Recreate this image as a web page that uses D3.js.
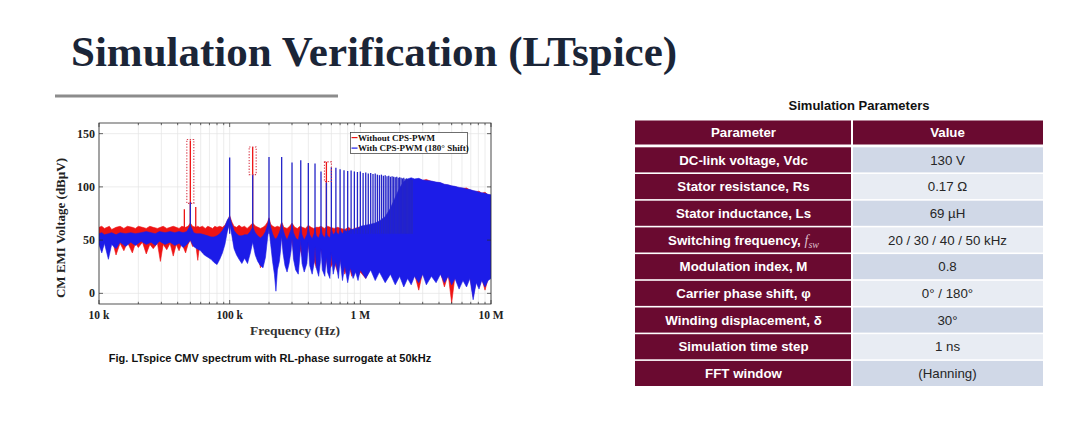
<!DOCTYPE html>
<html><head><meta charset="utf-8">
<script src="https://cdn.jsdelivr.net/npm/d3@7"></script>
<style>body{margin:0;background:#fff;}svg{display:block;}</style>
</head><body>
<svg id="c" width="1073" height="423"></svg>
<script>
// ---------------- DATA ----------------
const titleText = "Simulation Verification (LTspice)";
const captionText = "Fig. LTspice CMV spectrum with RL-phase surrogate at 50kHz";
const seriesNames = ["Without CPS-PWM", "With CPS-PWM (180° Shift)"];
const xTickValues = [1e4, 1e5, 1e6, 1e7];
const xTickLabels = ["10 k", "100 k", "1 M", "10 M"];
const yTickValues = [0, 50, 100, 150];
const yTickLabels = ["0", "50", "100", "150"];

// noise floor envelopes: [kHz, lower dB, upper dB]
const withoutFloor = [[10,48,62],[10.5,40,63],[11,50,61],[12,44,63],[12.5,52,60],[13.5,36,62],[14.5,47,63],[15.5,40,61],[16.5,48,63],[18,38,62],[19,47,61],[20,43,63],[21.5,48,62],[23,37,61],[24.5,46,63],[26,42,62],[28,47,61],[29.5,30,62],[31,46,63],[33,41,61],[35,47,62],[37,35,63],[39,46,62],[41,40,61],[43,47,63],[46,38,62],[48,46,63],[50,50,66],[52,44,63],[55,46,62],[57,31,63],[59,46,62],[62,38,63],[65,47,61],[68,36,63],[71,46,62],[74,33,61],[77,45,63],[80,40,62],[84,47,63],[88,42,62],[92,52,64],[96,60,68],[100,66,73],[104,58,67],[108,46,63],[113,40,62],[118,48,64],[124,38,62],[130,44,63],[136,30,61],[142,46,63],[150,50,66],[158,44,63],[165,36,62],[172,24,61],[180,40,62],[188,48,64],[195,58,67],[200,62,71],[206,52,65],[214,38,63],[222,30,62],[232,40,63],[242,46,62],[250,54,67],[260,38,62],[275,28,61],[288,42,63],[300,50,66],[315,30,62],[330,26,61],[345,42,63],[360,34,62],[380,28,61],[400,46,64],[420,26,62],[440,32,61],[460,24,62],[480,36,62],[500,42,63],[530,22,61],[560,34,63],[590,24,62],[630,30,61],[670,20,62],[710,32,61],[760,18,60],[810,28,62],[860,16,60],[910,26,61],[960,16,62],[1000,20,62],[1100,14,63],[1200,24,64],[1300,16,64],[1400,24,65],[1550,14,66],[1700,22,67],[1850,12,68],[2000,20,72],[2150,10,85],[2300,18,100],[2450,12,107],[2600,18,106.5],[2800,3,107],[3000,20,106],[3200,12,107],[3500,19,105],[3800,14,104],[4100,20,103.5],[4400,6,102],[4700,18,101.5],[5000,-9,100.5],[5300,16,100],[5700,8,99],[6100,14,98.5],[6500,10,99],[6900,16,97],[7300,-3,96],[7700,12,95.5],[8100,6,96],[8500,14,94],[9000,3,95],[9500,14,92.5],[10000,16,92]];

const withFloor = [[10,46,56],[10.5,38,57],[11,47,55],[11.8,32,56],[12.5,46,57],[13.5,42,55],[14.5,48,57],[16,44,56],[17.5,48,57],[19,45,56],[21,49,57],[23,46,58],[25,48,57],[27,45,56],[29,49,58],[32,46,57],[35,48,58],[38,45,57],[41,47,58],[44,43,57],[47,46,58],[50,50,64],[53,44,57],[56,42,56],[60,40,56],[64,36,55],[68,34,54],[72,32,53],[76,29,53],[80,27,54],[84,32,56],[88,38,59],[92,46,63],[96,58,69],[100,66,72],[104,54,65],[108,42,59],[113,36,56],[118,32,54],[124,28,54],[130,33,55],[137,28,55],[144,38,58],[150,48,62],[157,36,57],[164,30,54],[172,26,52],[180,24,54],[188,34,58],[195,52,64],[200,62,70],[206,46,62],[213,30,56],[220,18,52],[226,2,51],[232,22,53],[240,30,57],[246,42,61],[250,54,66],[256,38,60],[265,26,54],[275,20,50],[285,28,55],[295,40,60],[300,52,65],[308,32,57],[320,22,52],[335,18,50],[345,36,58],[350,50,63],[358,28,55],[372,20,50],[390,28,55],[400,48,62],[410,26,55],[428,18,51],[445,30,57],[450,44,61],[460,24,54],[480,16,52],[495,30,57],[500,42,61],[512,22,55],[535,16,52],[548,34,59],[560,20,54],[585,14,52],[600,38,60],[620,18,55],[650,30,58],[680,14,55],[700,32,59],[730,12,56],[760,26,59],[800,10,58],[840,24,60],[880,14,60],[920,20,61],[960,12,61],[1000,22,63],[1100,14,64],[1200,22,65],[1300,12,66],[1400,20,68],[1550,10,72],[1700,18,80],[1850,8,90],[2000,16,99],[2150,6,105],[2300,14,107.5],[2450,8,108.5],[2600,16,107.5],[2800,10,108],[3000,18,106.5],[3200,8,106],[3500,16,105.5],[3800,10,104.5],[4100,18,104],[4400,10,102.5],[4700,16,102],[5000,8,101],[5300,14,100.5],[5700,4,99.5],[6100,12,99],[6500,6,98],[6900,14,97.5],[7300,-6,96.5],[7700,10,96],[8100,4,95],[8500,12,94.5],[9000,6,94],[9500,12,93],[10000,14,92.5]];

// discrete spectral peaks: frequencies in kHz, amplitudes in dBµV
const withoutPeakKHz = [45, 50, 55, 150, 550];
const withoutPeakDB  = [79, 143.5, 81, 137.5, 123.5];
const withPeakKHz = [50,100,150,200,250,300,350,400,450,500,550,600,650,700,750,800,850,900,950,1000,1050,1100,1150,1200,1250,1300,1350,1400,1450,1500,1550,1600,1650,1700,1750,1800,1850,1900,1950,2000,2050,2100,2150,2200,2250,2300,2350,2400,2450,2500];
const withPeakDB  = [85.5,127.5,112,128,128,122.8,125,122.5,122,114.5,104,118.5,118,116.5,115.6,115,115.5,114.5,114,114.5,113,113.5,112.5,113,112,112.5,111.5,111,111.5,110.5,111,110,110.5,109.5,110,109.5,109,109.5,108.5,109,108.5,108,108.5,107.5,108,107.5,107,107.5,107,106.5];

// dotted highlight boxes around suppressed peaks
const highlightKHz = [50, 150, 565];
const highlightLo  = [84.5, 111.5, 105];
const highlightHi  = [144.5, 137.5, 123.5];

// table
const tableTitle = "Simulation Parameters";
const tableHeader = ["Parameter", "Value"];
const paramNames = ["DC-link voltage, Vdc","Stator resistance, Rs","Stator inductance, Ls","Switching frequency, ","Modulation index, M","Carrier phase shift, φ","Winding displacement, δ","Simulation time step","FFT window"];
const paramValues = ["130 V","0.17 Ω","69 µH","20 / 30 / 40 / 50 kHz","0.8","0° / 180°","30°","1 ns","(Hanning)"];

// ---------------- DRAW ----------------
const svg = d3.select("#c");
const RED = "#ee1414", BLUE = "#1c1ce8";
const serif = "'Liberation Serif','Times New Roman',serif";
const sans = "'Liberation Sans',Arial,sans-serif";

svg.append("text").attr("x", 71).attr("y", 66).text(titleText)
  .attr("font-family", serif).attr("font-weight", "bold").attr("font-size", 43).attr("fill", "#1b2537");
svg.append("rect").attr("x", 55).attr("y", 94.5).attr("width", 283).attr("height", 3).attr("fill", "#8c8c8c");

// plot
const P = {l: 99, r: 491, t: 123, b: 304};
const x = d3.scaleLog().domain([1e4, 1e7]).range([P.l, P.r]);
const y = d3.scaleLinear().domain([-10, 160]).range([P.b, P.t]);

const defs = svg.append("defs");
defs.append("clipPath").attr("id", "clip").append("rect")
  .attr("x", P.l).attr("y", P.t).attr("width", P.r - P.l).attr("height", P.b - P.t);

const g = svg.append("g");
// grid
const minorVals = [];
for (let e = 4; e < 7; e++) for (let m = 1; m < 10; m++) minorVals.push(m * Math.pow(10, e));
minorVals.push(1e7);
g.append("g").selectAll("line").data(minorVals).join("line")
  .attr("x1", d => x(d)).attr("x2", d => x(d)).attr("y1", P.t).attr("y2", P.b)
  .attr("stroke", "#e4e4e4").attr("stroke-width", 0.7);
g.append("g").selectAll("line").data(yTickValues).join("line")
  .attr("x1", P.l).attr("x2", P.r).attr("y1", d => y(d)).attr("y2", d => y(d))
  .attr("stroke", "#e4e4e4").attr("stroke-width", 0.7);

const plot = g.append("g").attr("clip-path", "url(#clip)");
const area = d3.area().x(d => x(d[0] * 1e3)).y0(d => y(d[1])).y1(d => y(d[2]));

plot.append("path").datum(withoutFloor).attr("d", area).attr("fill", RED)
  .attr("stroke", RED).attr("stroke-width", 0.6);
plot.append("g").selectAll("line").data(withoutPeakKHz).join("line")
  .attr("x1", d => x(d * 1e3)).attr("x2", d => x(d * 1e3))
  .attr("y1", y(58)).attr("y2", (d, i) => y(withoutPeakDB[i]))
  .attr("stroke", RED).attr("stroke-width", 1.3);

plot.append("path").datum(withFloor).attr("d", area).attr("fill", BLUE)
  .attr("stroke", BLUE).attr("stroke-width", 0.6);
plot.append("g").selectAll("line").data(withPeakKHz).join("line")
  .attr("x1", d => x(d * 1e3)).attr("x2", d => x(d * 1e3))
  .attr("y1", y(56)).attr("y2", (d, i) => y(withPeakDB[i]))
  .attr("stroke", "#2424c8").attr("stroke-width", 1.3);

// highlight boxes
plot.append("g").selectAll("rect").data(highlightKHz).join("rect")
  .attr("x", d => x(d * 1e3) - 3.5).attr("width", 7)
  .attr("y", (d, i) => y(highlightHi[i])).attr("height", (d, i) => y(highlightLo[i]) - y(highlightHi[i]))
  .attr("fill", "none").attr("stroke", "#d83a4a").attr("stroke-width", 1.1).attr("stroke-dasharray", "1.3,1.6");

// frame
g.append("rect").attr("x", P.l).attr("y", P.t).attr("width", P.r - P.l).attr("height", P.b - P.t)
  .attr("fill", "none").attr("stroke", "#2a2a2a").attr("stroke-width", 0.8);
// ticks (inward)
const tk = g.append("g").attr("stroke", "#2a2a2a").attr("stroke-width", 0.7);
minorVals.forEach(v => {
  const L = xTickValues.includes(v) ? 4 : 2.2;
  tk.append("line").attr("x1", x(v)).attr("x2", x(v)).attr("y1", P.b).attr("y2", P.b - L);
  tk.append("line").attr("x1", x(v)).attr("x2", x(v)).attr("y1", P.t).attr("y2", P.t + L);
});
yTickValues.forEach(v => {
  tk.append("line").attr("x1", P.l).attr("x2", P.l + 4).attr("y1", y(v)).attr("y2", y(v));
  tk.append("line").attr("x1", P.r).attr("x2", P.r - 4).attr("y1", y(v)).attr("y2", y(v));
});
// tick labels
g.append("g").selectAll("text").data(xTickValues).join("text")
  .attr("x", d => x(d)).attr("y", 319).attr("text-anchor", "middle")
  .text((d, i) => xTickLabels[i])
  .attr("font-family", serif).attr("font-weight", "bold").attr("font-size", 11.5).attr("fill", "#222");
g.append("g").selectAll("text").data(yTickValues).join("text")
  .attr("x", 95).attr("y", d => y(d) + 4).attr("text-anchor", "end")
  .text((d, i) => yTickLabels[i])
  .attr("font-family", serif).attr("font-weight", "bold").attr("font-size", 12).attr("fill", "#222");
g.append("text").attr("x", 295).attr("y", 334.5).attr("text-anchor", "middle").text("Frequency (Hz)")
  .attr("font-family", serif).attr("font-weight", "bold").attr("font-size", 13.5).attr("fill", "#333");
g.append("text").attr("transform", "translate(65,228) rotate(-90)").attr("text-anchor", "middle")
  .text("CM EMI Voltage (dBµV)")
  .attr("font-family", serif).attr("font-weight", "bold").attr("font-size", 13).attr("fill", "#222");

// legend
const lg = g.append("g");
lg.append("rect").attr("x", 350.5).attr("y", 132.5).attr("width", 117).attr("height", 21)
  .attr("fill", "#fff").attr("stroke", "#333").attr("stroke-width", 0.7);
[RED, BLUE].forEach((c, i) => {
  const yy = 137.6 + i * 10.5;
  lg.append("line").attr("x1", 351.5).attr("x2", 357.5).attr("y1", yy).attr("y2", yy)
    .attr("stroke", c).attr("stroke-width", 1.2);
  lg.append("text").attr("x", 358).attr("y", yy + 3).text(seriesNames[i])
    .attr("font-family", serif).attr("font-weight", "bold").attr("font-size", 9).attr("fill", "#111");
});

// caption
svg.append("text").attr("x", 270).attr("y", 362).attr("text-anchor", "middle").text(captionText)
  .attr("font-family", sans).attr("font-weight", "bold").attr("font-size", 11).attr("fill", "#111");

// ---------------- TABLE ----------------
const T = {l: 635, m: 852, r: 1043, top: 120.5, headH: 24, rowTop: 147.3, rowH: 26.7};
const MAROON = "#6a0a30";
svg.append("text").attr("x", 859).attr("y", 109.5).attr("text-anchor", "middle").text(tableTitle)
  .attr("font-family", sans).attr("font-weight", "bold").attr("font-size", 13).attr("fill", "#111");
const tg = svg.append("g");
tg.append("rect").attr("x", T.l).attr("y", T.top).attr("width", T.m - 1 - T.l).attr("height", T.headH).attr("fill", MAROON);
tg.append("rect").attr("x", T.m + 1).attr("y", T.top).attr("width", T.r - T.m - 1).attr("height", T.headH).attr("fill", MAROON);
tableHeader.forEach((h, i) => {
  tg.append("text").attr("x", i === 0 ? (T.l + T.m) / 2 : (T.m + T.r) / 2).attr("y", T.top + T.headH / 2 + 4.7)
    .attr("text-anchor", "middle").text(h)
    .attr("font-family", sans).attr("font-weight", "bold").attr("font-size", 13.3).attr("fill", "#fff");
});
const rows = tg.selectAll("g.row").data(paramNames).join("g").attr("class", "row")
  .attr("transform", (d, i) => `translate(0,${T.rowTop + i * T.rowH})`);
rows.append("rect").attr("x", T.l).attr("y", 0).attr("width", T.m - 1 - T.l).attr("height", T.rowH - 1.6).attr("fill", MAROON);
rows.append("rect").attr("x", T.m + 1).attr("y", 0).attr("width", T.r - T.m - 1).attr("height", T.rowH - 1.6)
  .attr("fill", (d, i) => i % 2 === 0 ? "#d0d8e7" : "#e8ecf3");
rows.each(function(d, i) {
  const r = d3.select(this);
  const t = r.append("text").attr("x", (T.l + T.m) / 2).attr("y", (T.rowH - 1.6) / 2 + 4.7).attr("text-anchor", "middle")
    .attr("font-family", sans).attr("font-weight", "bold").attr("font-size", 13.3).attr("fill", "#fff");
  t.append("tspan").text(d);
  if (i === 3) {
    t.append("tspan").text("f").attr("font-family", serif).attr("font-style", "italic").attr("font-weight", "normal")
      .attr("font-size", 14).attr("fill", "#dcbfca");
    t.append("tspan").text("sw").attr("font-family", serif).attr("font-style", "italic").attr("font-weight", "normal")
      .attr("font-size", 10).attr("dy", 3).attr("fill", "#dcbfca");
  }
  r.append("text").attr("x", (T.m + T.r) / 2).attr("y", (T.rowH - 1.6) / 2 + 4.7).attr("text-anchor", "middle")
    .text(paramValues[i])
    .attr("font-family", sans).attr("font-size", 13.3).attr("fill", "#262626");
});
</script>
</body></html>
